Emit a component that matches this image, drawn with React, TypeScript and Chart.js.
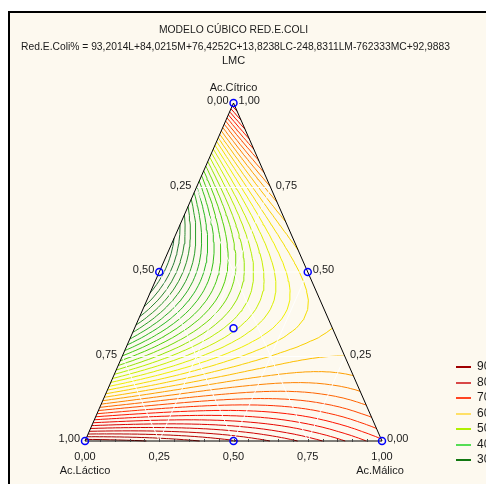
import React, { useEffect, useRef } from 'react';
import { Chart, registerables } from 'chart.js';

Chart.register(...registerables);

// ---- data ----
const TITLE = 'MODELO CÚBICO RED.E.COLI';
const EQUATION_LINES = [
  'Red.E.Coli% = 93,2014L+84,0215M+76,4252C+13,8238LC-248,8311LM-762333MC+92,9883',
  'LMC',
];
const TERMS = ['L', 'M', 'C', 'LC', 'LM', 'MC', 'LMC'];
const COEFFICIENTS = [93.2014, 84.0215, 76.4252, 13.8238, -248.8311, -76.2333, 92.9883];
const LEVELS = [28, 30, 32, 34, 36, 38, 40, 42, 44, 46, 48, 50, 52, 54, 56, 58, 60, 62, 64, 66, 68, 70, 72, 74, 76, 78, 80, 82, 84, 86, 88, 90, 92];
const LEGEND_VALUES = [90, 80, 70, 60, 50, 40, 30];
const DESIGN_L = [1, 0, 0, 0.5, 0.5, 0, 1 / 3];
const DESIGN_M = [0, 1, 0, 0.5, 0, 0.5, 1 / 3];
const DESIGN_C = [0, 0, 1, 0, 0.5, 0.5, 1 / 3];
const TICK_VALUES = [0, 0.25, 0.5, 0.75, 1];
const GRID_VALUES = [0.25, 0.5, 0.75];
const AXIS_TOP = 'Ac.Cítrico';
const AXIS_LEFT = 'Ac.Láctico';
const AXIS_RIGHT = 'Ac.Málico';

// ---- styles ----
const BG = '#fdf9ef';
const LEGEND_COLORS = ['#a00000', '#d84848', '#ff4422', '#ffe066', '#b0f000', '#55dd55', '#117711'];
const COLOR_STOPS: [number, number[]][] = [
  [28, [35, 110, 55]],
  [34, [45, 145, 45]],
  [40, [40, 185, 35]],
  [46, [80, 210, 10]],
  [52, [180, 240, 0]],
  [58, [240, 240, 0]],
  [64, [255, 190, 0]],
  [70, [255, 100, 0]],
  [76, [255, 20, 0]],
  [82, [220, 0, 0]],
  [88, [180, 0, 0]],
  [92, [150, 0, 0]],
];
const FONT = '11px "Liberation Sans", Arial, sans-serif';
const N = 36;

function colorFor(v: number): string {
  if (v <= COLOR_STOPS[0][0]) return `rgb(${COLOR_STOPS[0][1].join(',')})`;
  for (let k = 1; k < COLOR_STOPS.length; k++) {
    const [v1, c1] = COLOR_STOPS[k];
    const [v0, c0] = COLOR_STOPS[k - 1];
    if (v <= v1) {
      const t = (v - v0) / (v1 - v0);
      const c = c0.map((a, i) => Math.round(a + (c1[i] - a) * t));
      return `rgb(${c.join(',')})`;
    }
  }
  return `rgb(${COLOR_STOPS[COLOR_STOPS.length - 1][1].join(',')})`;
}

function termValue(term: string, L: number, M: number, C: number) {
  let v = 1;
  for (const ch of term) v *= ch === 'L' ? L : ch === 'M' ? M : C;
  return v;
}
function model(L: number, M: number, C: number) {
  return TERMS.reduce((s, t, i) => s + COEFFICIENTS[i] * termValue(t, L, M, C), 0);
}
function toXY(L: number, M: number, C: number) {
  return { x: C + M / 2, y: M };
}

type P = { x: number; y: number | null };

function contour(level: number): P[] {
  const vals: number[][] = [];
  for (let i = 0; i <= N; i++) {
    vals.push([]);
    for (let j = 0; j <= N - i; j++) vals[i].push(model((N - i - j) / N, i / N, j / N) - level);
  }
  const pos = new Map<string, { x: number; y: number }>();
  const adj = new Map<string, string[]>();
  const key = (a: number[], b: number[]) => {
    const ka = a[0] * 1000 + a[1];
    const kb = b[0] * 1000 + b[1];
    return ka < kb ? `${ka}_${kb}` : `${kb}_${ka}`;
  };
  const tri = (vs: number[][]) => {
    const keys: string[] = [];
    for (let k = 0; k < 3; k++) {
      const p = vs[k];
      const q = vs[(k + 1) % 3];
      const vp = vals[p[0]][p[1]];
      const vq = vals[q[0]][q[1]];
      if (vp < 0 !== vq < 0) {
        const t = vp / (vp - vq);
        const M = (p[0] + (q[0] - p[0]) * t) / N;
        const C = (p[1] + (q[1] - p[1]) * t) / N;
        const kk = key(p, q);
        pos.set(kk, toXY(1 - M - C, M, C));
        keys.push(kk);
      }
    }
    if (keys.length === 2) {
      const [a, b] = keys;
      if (!adj.has(a)) adj.set(a, []);
      if (!adj.has(b)) adj.set(b, []);
      adj.get(a)!.push(b);
      adj.get(b)!.push(a);
    }
  };
  for (let i = 0; i < N; i++) {
    for (let j = 0; j < N - i; j++) {
      tri([[i, j], [i + 1, j], [i, j + 1]]);
      if (i + j + 2 <= N) tri([[i + 1, j], [i, j + 1], [i + 1, j + 1]]);
    }
  }
  const visited = new Set<string>();
  const out: P[] = [];
  const walk = (start: string) => {
    const line: string[] = [start];
    visited.add(start);
    let cur = start;
    for (;;) {
      const nx = (adj.get(cur) || []).find((n) => !visited.has(n));
      if (!nx) break;
      visited.add(nx);
      line.push(nx);
      cur = nx;
    }
    const nb = adj.get(cur) || [];
    if (line.length > 2 && nb.includes(start)) line.push(start);
    line.forEach((k) => out.push({ ...pos.get(k)! }));
    const last = pos.get(line[line.length - 1])!;
    out.push({ x: last.x, y: null });
  };
  for (const [k, n] of adj) if (n.length === 1 && !visited.has(k)) walk(k);
  for (const k of adj.keys()) if (!visited.has(k)) walk(k);
  return out;
}

function gridLines(): P[] {
  const out: P[] = [];
  for (const v of GRID_VALUES) {
    const segs = [
      [toXY(v, 1 - v, 0), toXY(v, 0, 1 - v)],
      [toXY(1 - v, v, 0), toXY(0, v, 1 - v)],
      [toXY(1 - v, 0, v), toXY(0, 1 - v, v)],
    ];
    for (const [a, b] of segs) out.push(a, b, { x: b.x, y: null });
  }
  return out;
}

const fmt = (v: number) => v.toFixed(2).replace('.', ',');

const textPlugin = {
  id: 'ternaryDecor',
  beforeDraw(chart: any) {
    const ctx = chart.ctx;
    ctx.save();
    ctx.fillStyle = '#ffffff';
    ctx.fillRect(0, 0, chart.width, chart.height);
    ctx.fillStyle = BG;
    ctx.fillRect(10, 13, chart.width - 10, chart.height - 13);
    ctx.fillStyle = '#000';
    ctx.fillRect(8, 11, 2, chart.height - 11);
    ctx.fillRect(8, 11, chart.width - 8, 2);
    ctx.restore();
  },
  afterDraw(chart: any) {
    const ctx = chart.ctx;
    const xs = chart.scales.x;
    const ys = chart.scales.y;
    const px = (L: number, M: number, C: number) => {
      const p = toXY(L, M, C);
      return [xs.getPixelForValue(p.x), ys.getPixelForValue(p.y)];
    };
    ctx.save();
    ctx.fillStyle = '#1a1a1a';
    ctx.font = FONT;
    ctx.textBaseline = 'middle';
    ctx.textAlign = 'center';
    const cx = px(0, 1, 0)[0];
    ctx.fillText(TITLE, cx, 30, 149);
    ctx.fillText(EQUATION_LINES[0], 235.5, 47, 429);
    ctx.fillText(EQUATION_LINES[1], cx, 61);
    ctx.fillText(AXIS_TOP, cx, 88);

    // bottom edge tick marks
    ctx.strokeStyle = '#444';
    ctx.lineWidth = 1;
    for (let k = 1; k < 20; k++) {
      const t = k / 20;
      const [bx, by] = px(1 - t, 0, t);
      ctx.beginPath();
      ctx.moveTo(Math.round(bx) + 0.5, by + 1);
      ctx.lineTo(Math.round(bx) + 0.5, by - 2);
      ctx.stroke();
    }

    // left edge labels
    ctx.textAlign = 'right';
    TICK_VALUES.forEach((t) => {
      const [x, y] = px(t, 1 - t, 0);
      ctx.fillText(fmt(t), x - 5, y - 2);
    });
    // right edge labels
    ctx.textAlign = 'left';
    TICK_VALUES.forEach((t) => {
      const [x, y] = px(0, t, 1 - t);
      ctx.fillText(fmt(t), x + 5, y - 2);
    });
    // bottom labels
    ctx.textAlign = 'center';
    TICK_VALUES.forEach((t) => {
      const [x, y] = px(1 - t, 0, t);
      ctx.fillText(fmt(t), x, y + 16);
    });
    const [blx, bly] = px(1, 0, 0);
    const [brx, bry] = px(0, 0, 1);
    ctx.fillText(AXIS_LEFT, blx, bly + 30);
    ctx.fillText(AXIS_RIGHT, brx - 2, bry + 30);

    // legend
    ctx.textAlign = 'left';
    ctx.font = '12px "Liberation Sans", Arial, sans-serif';
    LEGEND_VALUES.forEach((v, i) => {
      const y = 367 + i * 15.5;
      ctx.strokeStyle = LEGEND_COLORS[i];
      ctx.lineWidth = 2;
      ctx.beginPath();
      ctx.moveTo(456, Math.round(y));
      ctx.lineTo(471, Math.round(y));
      ctx.stroke();
      ctx.fillStyle = '#1a1a1a';
      ctx.fillText(String(v), 477, y);
    });
    ctx.restore();
  },
};

export default function App() {
  const ref = useRef<HTMLCanvasElement | null>(null);
  useEffect(() => {
    if (!ref.current) return;
    const design = DESIGN_L.map((L, i) => toXY(L, DESIGN_M[i], DESIGN_C[i]));
    const outline = [toXY(1, 0, 0), toXY(0, 1, 0), toXY(0, 0, 1), toXY(1, 0, 0)];
    const datasets: any[] = [
      {
        label: 'design',
        data: design,
        showLine: false,
        pointRadius: 3.5,
        pointBorderWidth: 1.5,
        pointBorderColor: '#0000ff',
        pointBackgroundColor: 'rgba(0,0,0,0)',
        clip: false,
      },
      {
        label: 'outline',
        data: outline,
        showLine: true,
        borderColor: '#000',
        borderWidth: 1,
        pointRadius: 0,
        clip: false,
      },
      {
        label: 'grid',
        data: gridLines(),
        showLine: true,
        spanGaps: false,
        borderColor: 'rgba(255,255,255,0.9)',
        borderWidth: 1,
        pointRadius: 0,
        clip: false,
      },
      ...LEVELS.map((lv) => ({
        label: String(lv),
        data: contour(lv),
        showLine: true,
        spanGaps: false,
        borderColor: colorFor(lv),
        borderWidth: 1,
        pointRadius: 0,
        tension: 0,
        clip: false,
      })),
    ];
    const chart = new Chart(ref.current, {
      type: 'scatter',
      data: { datasets },
      options: {
        responsive: false,
        animation: false,
        devicePixelRatio: 1,
        events: [],
        layout: { padding: { left: 85, right: 104, top: 103, bottom: 43 } },
        scales: {
          x: { type: 'linear', min: 0, max: 1, display: false },
          y: { type: 'linear', min: 0, max: 1, display: false },
        },
        plugins: { legend: { display: false }, tooltip: { enabled: false }, title: { display: false } },
      },
      plugins: [textPlugin],
    } as any);
    return () => chart.destroy();
  }, []);
  return <canvas ref={ref} width={486} height={484} style={{ position: 'absolute', left: 0, top: 0 }} />;
}
